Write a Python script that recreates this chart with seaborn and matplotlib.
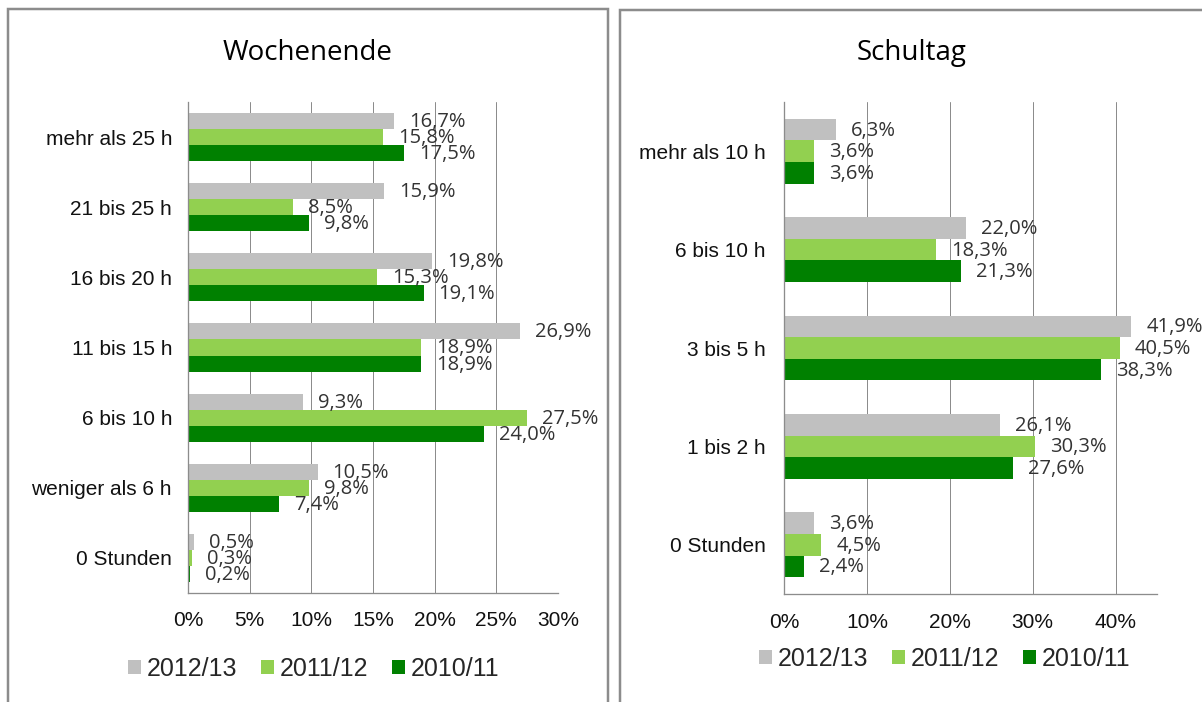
import matplotlib
matplotlib.use("Agg")
import matplotlib.pyplot as plt
import seaborn as sns
import pandas as pd
from matplotlib.patches import Rectangle, Patch
from matplotlib.ticker import FixedLocator

# ---------------- data ----------------
years = ["2012/13", "2011/12", "2010/11"]
colors = ["#C0C0C0", "#92D050", "#008000"]

we_cats = ["mehr als 25 h", "21 bis 25 h", "16 bis 20 h", "11 bis 15 h",
           "6 bis 10 h", "weniger als 6 h", "0 Stunden"]
we_2012 = [16.7, 15.9, 19.8, 26.9, 9.3, 10.5, 0.5]
we_2011 = [15.8, 8.5, 15.3, 18.9, 27.5, 9.8, 0.3]
we_2010 = [17.5, 9.8, 19.1, 18.9, 24.0, 7.4, 0.2]
we_ticks = [0, 5, 10, 15, 20, 25, 30]

st_cats = ["mehr als 10 h", "6 bis 10 h", "3 bis 5 h", "1 bis 2 h", "0 Stunden"]
st_2012 = [6.3, 22.0, 41.9, 26.1, 3.6]
st_2011 = [3.6, 18.3, 40.5, 30.3, 4.5]
st_2010 = [3.6, 21.3, 38.3, 27.6, 2.4]
st_ticks = [0, 10, 20, 30, 40]

titles = ["Wochenende", "Schultag"]

# ---------------- style ----------------
sns.set_style("white")
plt.rcParams["font.family"] = ["Liberation Sans", "DejaVu Sans"]

W, H = 1202, 702
fig = plt.figure(figsize=(W / 100, H / 100), dpi=100)
fig.patch.set_facecolor("white")

GRAY = "#8c8c8c"
PX = 0.72  # points per pixel


def make_df(cats, a, b, c):
    rows = []
    for yr, vals in zip(years, [a, b, c]):
        for cat, v in zip(cats, vals):
            rows.append({"cat": cat, "year": yr, "val": v})
    return pd.DataFrame(rows)


def fig_rect(x0, y0, x1, y1):
    return [x0 / W, 1 - y1 / H, (x1 - x0) / W, (y1 - y0) / H]


def draw(ax, cats, a, b, c, ticks, xmax, width, ypad):
    df = make_df(cats, a, b, c)
    sns.barplot(data=df, y="cat", x="val", hue="year", hue_order=years,
                order=cats, palette=colors, orient="h", width=width,
                saturation=1, linewidth=0, legend=False, ax=ax)
    ax.set_xlim(0, xmax)
    n = len(cats)
    ax.set_ylim(n - 0.5, -0.5)
    ax.set_xlabel("")
    ax.set_ylabel("")
    ax.set_xticks(ticks)
    ax.set_xticklabels([f"{t}%" for t in ticks])
    ax.xaxis.grid(True, color=GRAY, linewidth=1.0 * PX)
    ax.yaxis.grid(False)
    ax.set_axisbelow(True)
    for s in ["top", "right"]:
        ax.spines[s].set_visible(False)
    for s in ["left", "bottom"]:
        ax.spines[s].set_color(GRAY)
        ax.spines[s].set_linewidth(1.3 * PX)
    ax.yaxis.set_minor_locator(FixedLocator([i - 0.5 for i in range(n + 1)]))
    ax.tick_params(axis="y", which="major", length=0, pad=ypad,
                   labelsize=15, labelcolor="#111111")
    ax.tick_params(axis="y", which="minor", length=6 * PX, width=1.3 * PX,
                   color=GRAY, direction="out")
    ax.tick_params(axis="x", which="major", length=6 * PX, width=1.3 * PX,
                   color=GRAY, direction="out", pad=9, labelsize=15,
                   labelcolor="#111111")
    for cont in ax.containers:
        for bar in cont:
            v = bar.get_width()
            yc = bar.get_y() + bar.get_height() / 2
            ax.annotate(f"{v:.1f}".replace(".", ",") + "%", xy=(v, yc),
                        xytext=(15 * PX, -1 * PX), textcoords="offset points",
                        ha="left", va="center", fontsize=14.5,
                        family=["Open Sans", "DejaVu Sans"], color="#333333")


ax1 = fig.add_axes(fig_rect(188, 102, 558, 593))
draw(ax1, we_cats, we_2012, we_2011, we_2010, we_ticks, 30, 0.685, 11.5)

ax2 = fig.add_axes(fig_rect(784, 102, 1157, 594))
draw(ax2, st_cats, st_2012, st_2011, st_2010, st_ticks, 45, 0.66, 13)

# panel borders
fig.add_artist(Rectangle((8 / W, -0.1), 600 / W, 1.1 - 9 / H,
                         transform=fig.transFigure, fill=False,
                         edgecolor=GRAY, linewidth=2.5 * PX))
fig.add_artist(Rectangle((620 / W, -0.1), 0.6, 1.1 - 10 / H,
                         transform=fig.transFigure, fill=False,
                         edgecolor=GRAY, linewidth=2.5 * PX))

# titles
fig.text(308 / W, 1 - 53 / H, titles[0], ha="center", va="center",
         fontsize=20, family=["Open Sans", "DejaVu Sans"], color="#000000")
fig.text(912 / W, 1 - 53 / H, titles[1], ha="center", va="center",
         fontsize=20, family=["Open Sans", "DejaVu Sans"], color="#000000")

# legends
handles = [Patch(facecolor=c, edgecolor="none", label=y) for c, y in zip(colors, years)]
for cx, cy in [(314, 669), (945, 659)]:
    fig.legend(handles=handles, loc="center", ncol=3,
               bbox_to_anchor=(cx / W, 1 - cy / H), frameon=False,
               prop={"family": ["Liberation Sans", "DejaVu Sans"], "size": 18},
               handlelength=0.5, handleheight=0.5, handletextpad=0.25,
               columnspacing=0.95, borderpad=0, borderaxespad=0)

fig.savefig("out.png", dpi=100, facecolor="white")
